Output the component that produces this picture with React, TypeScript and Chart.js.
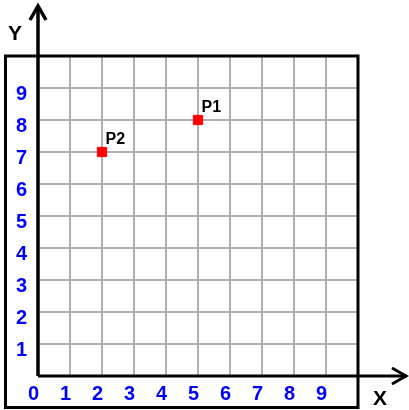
import React, { useEffect, useRef } from "react";
import { Chart, registerables } from "chart.js";

Chart.register(...registerables);

const pointNames = ["P1", "P2"];
const pointX = [5, 2];
const pointY = [8, 7];
const xTickLabels = ["0", "1", "2", "3", "4", "5", "6", "7", "8", "9"];
const yTickLabels = ["1", "2", "3", "4", "5", "6", "7", "8", "9"];
const axisMin = 0;
const axisMax = 10;
const xAxisTitle = "X";
const yAxisTitle = "Y";

const FONT = "'Liberation Sans', Arial, sans-serif";

const decorPlugin = {
  id: "decor",
  afterDatasetsDraw(chart: any) {
    const ctx = chart.ctx;
    const meta = chart.getDatasetMeta(0);
    ctx.save();
    ctx.fillStyle = "#000";
    ctx.font = `bold 16px ${FONT}`;
    ctx.textAlign = "left";
    ctx.textBaseline = "alphabetic";
    meta.data.forEach((el: any, i: number) => {
      ctx.fillText(pointNames[i], el.x + 3.5, el.y - 8);
    });
    ctx.restore();
  },
  afterDraw(chart: any) {
    const ctx = chart.ctx;
    const xs = chart.scales.x;
    const ys = chart.scales.y;
    const x0 = xs.getPixelForValue(0);
    const x10 = xs.getPixelForValue(axisMax);
    const y0 = ys.getPixelForValue(0);
    const y10 = ys.getPixelForValue(axisMax);
    ctx.save();
    // outer box
    ctx.strokeStyle = "#000";
    ctx.lineWidth = 3;
    ctx.strokeRect(5.5, y10, x10 - 5.5, 407.5 - y10);
    // axes
    ctx.lineWidth = 3.5;
    ctx.lineCap = "butt";
    ctx.beginPath();
    ctx.moveTo(x0, y0);
    ctx.lineTo(x0, 6);
    ctx.stroke();
    ctx.lineWidth = 3;
    ctx.beginPath();
    ctx.moveTo(x0, y0);
    ctx.lineTo(407, y0);
    ctx.stroke();
    // arrows
    ctx.lineJoin = "miter";
    ctx.lineWidth = 3.5;
    ctx.beginPath();
    ctx.moveTo(x0 - 8, 20);
    ctx.lineTo(x0, 6);
    ctx.lineTo(x0 + 8, 20);
    ctx.stroke();
    ctx.lineWidth = 3;
    ctx.beginPath();
    ctx.moveTo(392, y0 - 8);
    ctx.lineTo(406, y0);
    ctx.lineTo(392, y0 + 8);
    ctx.stroke();
    // axis titles
    ctx.fillStyle = "#000";
    ctx.font = `bold 21px ${FONT}`;
    ctx.textAlign = "center";
    ctx.textBaseline = "alphabetic";
    ctx.fillText(yAxisTitle, 15, 40);
    ctx.fillText(xAxisTitle, 380, 405);
    ctx.restore();
  },
};

export default function App() {
  const ref = useRef<HTMLCanvasElement | null>(null);
  useEffect(() => {
    document.body.style.margin = "0";
    const canvas = ref.current;
    if (!canvas) return;
    const chart = new Chart(canvas, {
      type: "scatter",
      data: {
        datasets: [
          {
            data: pointX.map((x, i) => ({ x, y: pointY[i] })),
            pointStyle: "rect",
            pointRadius: 6.5,
            pointBorderWidth: 1,
            backgroundColor: "#ff0000",
            borderColor: "#ff0000",
          },
        ],
      },
      options: {
        responsive: false,
        animation: false,
        events: [],
        layout: { padding: { left: 6, top: 56, right: 51, bottom: 0 } },
        plugins: { legend: { display: false }, tooltip: { enabled: false } },
        scales: {
          x: {
            type: "linear",
            min: axisMin,
            max: axisMax,
            afterFit: (s: any) => {
              s.height = 34;
            },
            border: { display: false },
            grid: { color: "#b0b0b0", lineWidth: 2, drawTicks: false },
            ticks: {
              stepSize: 1,
              autoSkip: false,
              maxRotation: 0,
              padding: 6,
              labelOffset: -4.5,
              color: "#0000ff",
              font: { family: FONT, size: 20, weight: "bold" },
              callback: (v: any) => {
                const s = String(v);
                return xTickLabels.includes(s) ? s : "";
              },
            },
          },
          y: {
            type: "linear",
            min: axisMin,
            max: axisMax,
            afterFit: (s: any) => {
              s.width = 32;
            },
            border: { display: false },
            grid: { color: "#b0b0b0", lineWidth: 2, drawTicks: false },
            ticks: {
              stepSize: 1,
              autoSkip: false,
              padding: 11,
              labelOffset: 6.5,
              color: "#0000ff",
              font: { family: FONT, size: 20, weight: "bold" },
              callback: (v: any) => {
                const s = String(v);
                return yTickLabels.includes(s) ? s : "";
              },
            },
          },
        },
      },
      plugins: [decorPlugin],
    });
    return () => chart.destroy();
  }, []);
  return (
    <div style={{ position: "absolute", left: 0, top: 0, width: 409, height: 410 }}>
      <canvas ref={ref} width={409} height={410} />
    </div>
  );
}
